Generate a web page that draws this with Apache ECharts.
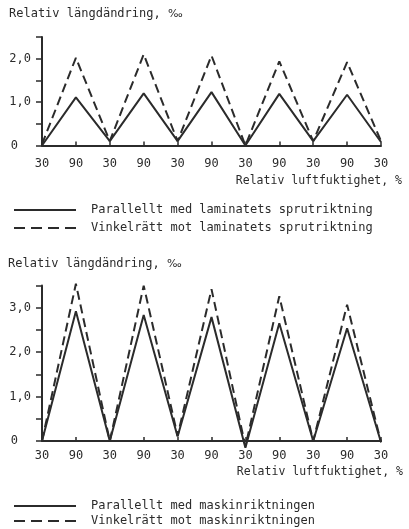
<!DOCTYPE html>
<html><head><meta charset="utf-8">
<script src="https://cdn.jsdelivr.net/npm/echarts@6/dist/echarts.min.js"></script>
<style>html,body{margin:0;padding:0;background:#fff}#c{width:409px;height:529px}</style>
</head><body><div id="c"></div>
<script>
const categories = ['30','90','30','90','30','90','30','90','30','90','30'];
const topParallel = [0, 1.11, 0.10, 1.20, 0.10, 1.23, 0.00, 1.19, 0.10, 1.17, 0.08];
const topPerp     = [0.03, 2.02, 0.10, 2.10, 0.10, 2.07, 0.00, 1.94, 0.10, 1.92, 0.10];
const botParallel = [0, 2.92, 0.00, 2.84, 0.10, 2.79, -0.15, 2.65, 0.00, 2.54, -0.03];
const botPerp     = [0, 3.54, 0.00, 3.50, 0.12, 3.42, -0.12, 3.26, 0.00, 3.07, -0.03];
const yTitle = 'Relativ längdändring, {p|‰}';
const xTitle = 'Relativ luftfuktighet, %';
const names = ['Parallellt med laminatets sprutriktning','Vinkelrätt mot laminatets sprutriktning',
               'Parallellt med maskinriktningen','Vinkelrätt mot maskinriktningen'];

const C = '#2b2b2b';
const FONT = '"DejaVu Sans Mono"';
const chart = echarts.init(document.getElementById('c'), null, {renderer:'canvas'});
function xAx(gi, labelMargin){
  return {type:'category', gridIndex:gi, data:categories, boundaryGap:false,
    axisLine:{lineStyle:{color:C,width:2}},
    axisTick:{inside:true,length:4,lineStyle:{color:C,width:1.5}},
    axisLabel:{interval:0,color:C,fontFamily:FONT,fontSize:12,margin:labelMargin},
    splitLine:{show:false}};
}
function yAx(gi,max){
  return {type:'value', gridIndex:gi, min:0, max:max, interval:0.5,
    axisLine:{show:true,lineStyle:{color:C,width:2}},
    axisTick:{show:true,length:6,lineStyle:{color:C,width:1.5}},
    axisLabel:{color:C,fontFamily:FONT,fontSize:12,margin:11,
      formatter:v=> v===0 ? '{z|0}' : (Math.abs(v-Math.round(v))<1e-9 ? v.toFixed(1).replace('.',',') : ''),
      rich:{z:{color:C,fontFamily:FONT,fontSize:12,padding:[0,13,0,0]}}},
    splitLine:{show:false}};
}
function ser(name,data,xi,dashed){
  return {name:name,type:'line',xAxisIndex:xi,yAxisIndex:xi,data:data,symbol:'none',clip:false,
    lineStyle:{color:C,width:2,type:dashed?[9,5]:'solid'},itemStyle:{color:C},z:dashed?3:4};
}
function legend(top,gap,n1,n2){
  return {orient:'vertical',left:13,top:top,padding:0,itemGap:gap,itemWidth:62,itemHeight:12,selectedMode:false,
    itemStyle:{opacity:0},
    data:[{name:n1,lineStyle:{type:'solid'}},{name:n2,lineStyle:{type:[11,6]}}],
    textStyle:{color:C,fontFamily:'DejaVu Sans Mono',fontSize:12,padding:[0,0,0,10]}};
}
const tStyle = {color:C,fontFamily:'DejaVu Sans Mono',fontSize:12,fontWeight:'normal',
  rich:{p:{color:C,fontFamily:'DejaVu Sans',fontSize:11}}};
chart.setOption({
  backgroundColor:'#fff',
  animation:false,
  title:[
    {text:yTitle,left:9,top:8,textStyle:tStyle,padding:0},
    {text:yTitle,left:8,top:258,textStyle:tStyle,padding:0}
  ],
  grid:[{left:42,right:28,top:37,height:108.5},{left:42,right:28,top:285.6,height:155.4}],
  xAxis:[xAx(0,12),xAx(1,9)],
  yAxis:[yAx(0,2.5),yAx(1,3.5)],
  legend:[legend(204,6,names[0],names[1]), legend(500,3,names[2],names[3])],
  graphic:[
    {type:'text',right:409-402,top:175,style:{text:xTitle,fill:C,font:'11.5px "DejaVu Sans Mono"',textAlign:'right'}},
    {type:'text',right:409-403,top:466,style:{text:xTitle,fill:C,font:'11.5px "DejaVu Sans Mono"',textAlign:'right'}}
  ],
  series:[
    ser(names[0],topParallel,0,false),
    ser(names[1],topPerp,0,true),
    ser(names[2],botParallel,1,false),
    ser(names[3],botPerp,1,true)
  ]
});
</script></body></html>
